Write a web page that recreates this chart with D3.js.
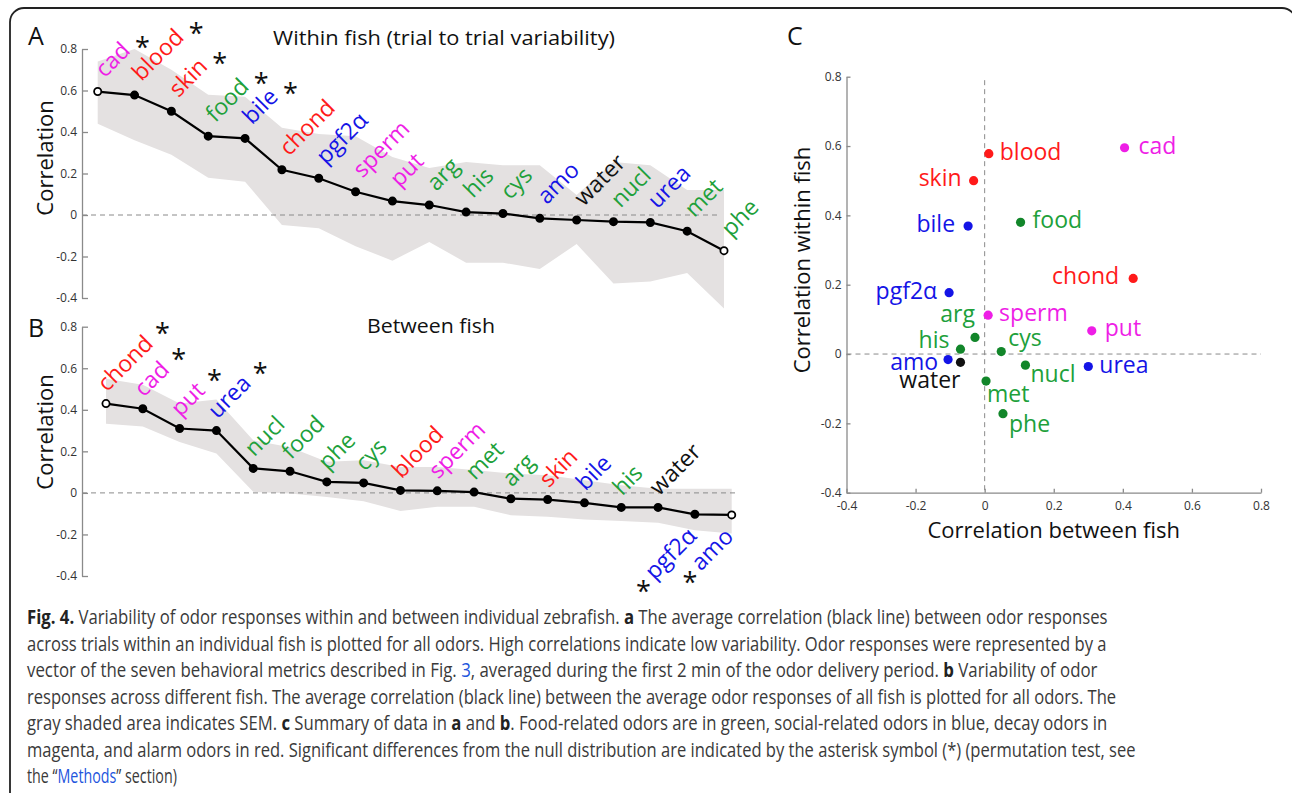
<!DOCTYPE html>
<html><head><meta charset="utf-8">
<script src="https://cdn.jsdelivr.net/npm/d3@7"></script>
<style>
body{margin:0;background:#fff}
svg{display:block}
text{font-family:"Open Sans","Noto Sans",sans-serif}
</style>
</head><body>
<svg id="c" width="1292" height="793"></svg>
<script>
// ---------------- DATA ----------------
// odor category (colour group)
const groupOf = {cad:"decay",blood:"alarm",skin:"alarm",food:"food",bile:"social",chond:"alarm","pgf2α":"social",
  sperm:"decay",put:"decay",arg:"food",his:"food",cys:"food",amo:"social",water:"control",nucl:"food",urea:"social",met:"food",phe:"food"};

// Panel A: within fish (sorted)
const odorsA   = ["cad","blood","skin","food","bile","chond","pgf2α","sperm","put","arg","his","cys","amo","water","nucl","urea","met","phe"];
const withinMean = [0.595,0.578,0.50,0.38,0.369,0.218,0.177,0.112,0.067,0.048,0.014,0.007,-0.016,-0.024,-0.032,-0.036,-0.078,-0.172];
const withinLo   = [0.44,0.36,0.29,0.18,0.16,-0.048,-0.064,-0.15,-0.22,-0.13,-0.23,-0.23,-0.26,-0.14,-0.33,-0.32,-0.28,-0.45];
const withinHi   = [0.74,0.80,0.70,0.58,0.57,0.42,0.39,0.38,0.28,0.226,0.256,0.24,0.24,0.096,0.256,0.24,0.12,0.12];
const withinSig  = [1,1,1,1,1,0,0,0,0,0,0,0,0,0,0,0,0,0];

// Panel B: between fish (sorted)
const odorsB   = ["chond","cad","put","urea","nucl","food","phe","cys","blood","sperm","met","arg","skin","bile","his","water","pgf2α","amo"];
const betweenMean = [0.43,0.405,0.31,0.30,0.118,0.104,0.053,0.048,0.012,0.01,0.004,-0.028,-0.032,-0.048,-0.07,-0.07,-0.103,-0.106];
const betweenLo   = [0.333,0.32,0.245,0.19,0.005,-0.003,-0.02,-0.04,-0.087,-0.067,-0.067,-0.107,-0.115,-0.128,-0.135,-0.144,-0.18,-0.195];
const betweenHi   = [0.55,0.52,0.43,0.45,0.253,0.22,0.15,0.157,0.125,0.125,0.11,0.093,0.085,0.061,0.037,0.02,0.02,0.02];
const betweenSig  = [1,1,1,1,0,0,0,0,0,0,0,0,0,0,0,0,1,1];

const corrTicks = [-0.4,-0.2,0,0.2,0.4,0.6,0.8];

// ---------------- STYLE / LAYOUT ----------------
const textColor = {food:"#20a03a",social:"#1414e6",decay:"#ee1ee6",alarm:"#ff1a1a",control:"#111"};
const dotColor  = {food:"#12862a",social:"#1414e6",decay:"#ee1ee6",alarm:"#ff1a1a",control:"#111"};
// panel C label placement: [anchor, dx, dy]
const cLabel = {blood:["start",11,6],cad:["start",14,6],skin:["end",-12,5],bile:["end",-13,6],food:["start",12,6],
  chond:["end",-14,6],"pgf2α":["end",-12,6],sperm:["start",11,6],put:["start",13,5],arg:["end",0,-15],his:["end",-11,-1],
  cys:["start",7,-6],amo:["end",-10,10],water:["end",0,26],nucl:["start",5,17],urea:["start",11,6],met:["start",1,21],phe:["start",6,18]};

const svg = d3.select("#c");
const AXIS = "#8a8a8a";

// frame
svg.append("rect").attr("x",10).attr("y",8).attr("width",1286).attr("height",800).attr("rx",14)
  .attr("fill","none").attr("stroke","#222").attr("stroke-width",1.8);

function fmt(d){ return d===0 ? "0" : String(d); }

function linePanel(o){
  const g = svg.append("g");
  const x = d3.scalePoint().domain(o.names).range(o.xr);
  const y = d3.scaleLinear().domain([-0.4,0.8]).range(o.yr);
  const idx = o.names.map((d,i)=>i);

  // band
  g.append("path").datum(idx)
    .attr("d", d3.area().x(i=>x(o.names[i])).y0(i=>y(o.lo[i])).y1(i=>y(o.hi[i])))
    .attr("fill","#e4e1e1");
  // zero line
  g.append("line").attr("x1",o.axisX).attr("x2",x(o.names[o.names.length-1])+o.dashExt)
    .attr("y1",y(0)).attr("y2",y(0)).attr("stroke","#8a8a8a").attr("stroke-width",1).attr("stroke-dasharray","5,4");
  // axis
  const ax = g.append("g").attr("transform",`translate(${o.axisX},0)`)
    .call(d3.axisLeft(y).tickValues(corrTicks).tickSizeInner(-6).tickSizeOuter(0).tickPadding(5).tickFormat(fmt));
  ax.select(".domain").attr("stroke",AXIS).attr("stroke-width",1.3);
  ax.selectAll(".tick line").attr("stroke",AXIS).attr("stroke-width",1.3);
  ax.selectAll(".tick text").attr("fill","#333").style("font-size","12px").style("font-family","'Open Sans',sans-serif");
  // line
  g.append("path").datum(idx)
    .attr("d", d3.line().x(i=>x(o.names[i])).y(i=>y(o.mean[i])))
    .attr("fill","none").attr("stroke","#000").attr("stroke-width",2.2);
  g.selectAll("circle").data(idx).join("circle")
    .attr("cx",i=>x(o.names[i])).attr("cy",i=>y(o.mean[i])).attr("r",3.6)
    .attr("fill",i=> (i===0||i===o.names.length-1) ? "#fff" : "#000")
    .attr("stroke","#000").attr("stroke-width",1.8);
  // labels
  const c = Math.SQRT1_2;
  idx.forEach(i=>{
    const name = o.names[i];
    const below = o.sig[i] && o.mean[i] < 0;
    const px = x(name), py = y(o.mean[i]);
    const sx = below ? px+3 : px+o.lab[0], sy = below ? py+23 : py+o.lab[1];
    const t = g.append("text")
      .attr("transform",`translate(${sx},${sy}) rotate(-45)`)
      .attr("text-anchor", below ? "end" : "start")
      .attr("fill", textColor[groupOf[name]])
      .style("font-size","23px")
      .text(name);
    if(o.sig[i]){
      const L = t.node().getComputedTextLength();
      let cx, cy;
      if(!below){ cx = sx + L*c + o.ast[0]; cy = sy - L*c + o.ast[1]; }
      else { cx = sx - L*c - 11; cy = sy + L*c + 6; }
      g.append("text").attr("x",cx).attr("y",cy+14).attr("text-anchor","middle")
        .attr("fill","#111").style("font-size","27px").text("*");
    }
  });
  // y label
  g.append("text").attr("transform",`translate(53,${o.ylabY}) rotate(-90)`).attr("text-anchor","middle")
    .attr("fill","#111").style("font-size","22px").text("Correlation");
  // title
  g.append("text").attr("x",o.titleX).attr("y",o.titleY).attr("fill","#111").style("font-size","20px")
    .attr("textLength",o.titleW).attr("lengthAdjust","spacingAndGlyphs").text(o.title);
  // panel letter
  g.append("text").attr("x",28).attr("y",o.letterY).attr("fill","#111").style("font-size","25px").text(o.letter);
}

linePanel({names:odorsA, mean:withinMean, lo:withinLo, hi:withinHi, sig:withinSig,
  xr:[97.7,724], yr:[298,49], axisX:82, dashExt:-7, ylabY:158, lab:[7,-13], ast:[11,-9],
  title:"Within fish (trial to trial variability)", titleX:273, titleY:45, titleW:342, letter:"A", letterY:45});
linePanel({names:odorsB, mean:betweenMean, lo:betweenLo, hi:betweenHi, sig:betweenSig,
  xr:[106,731.7], yr:[576,326.7], axisX:82, dashExt:5, ylabY:432, lab:[1,-11], ast:[8,-16],
  title:"Between fish", titleX:367, titleY:333, titleW:128, letter:"B", letterY:337});

// ---------------- Panel C ----------------
(function(){
  const g = svg.append("g");
  const x = d3.scaleLinear().domain([-0.4,0.8]).range([846.5,1261]);
  const y = d3.scaleLinear().domain([-0.4,0.8]).range([492.7,76.7]);
  const within = {}, between = {};
  odorsA.forEach((d,i)=>within[d]=withinMean[i]);
  odorsB.forEach((d,i)=>between[d]=betweenMean[i]);

  g.append("line").attr("x1",x(0)).attr("x2",x(0)).attr("y1",y(0.79)).attr("y2",y(-0.4))
    .attr("stroke","#8a8a8a").attr("stroke-dasharray","5,4");
  g.append("line").attr("x1",x(-0.4)).attr("x2",x(0.8)).attr("y1",y(0)).attr("y2",y(0))
    .attr("stroke","#8a8a8a").attr("stroke-dasharray","5,4");

  const ax = g.append("g").attr("transform",`translate(0,${y(-0.4)})`)
    .call(d3.axisBottom(x).tickValues(corrTicks).tickSizeInner(-4).tickSizeOuter(0).tickPadding(9).tickFormat(fmt));
  const ay = g.append("g").attr("transform",`translate(${x(-0.4)},0)`)
    .call(d3.axisLeft(y).tickValues(corrTicks).tickSizeInner(-4).tickSizeOuter(0).tickPadding(5).tickFormat(fmt));
  [ax,ay].forEach(a=>{
    a.select(".domain").attr("stroke",AXIS).attr("stroke-width",1.3);
    a.selectAll(".tick line").attr("stroke",AXIS).attr("stroke-width",1.3);
    a.selectAll(".tick text").attr("fill","#333").style("font-size","12px").style("font-family","'Open Sans',sans-serif");
  });

  g.selectAll("circle").data(odorsA).join("circle")
    .attr("cx",d=>x(between[d])).attr("cy",d=>y(within[d])).attr("r",4.6)
    .attr("fill",d=>dotColor[groupOf[d]]);
  g.selectAll("text.lab").data(odorsA).join("text").attr("class","lab")
    .attr("x",d=>x(between[d])+cLabel[d][1]).attr("y",d=>y(within[d])+cLabel[d][2])
    .attr("text-anchor",d=>cLabel[d][0])
    .attr("fill",d=>textColor[groupOf[d]]).style("font-size","23px").text(d=>d);

  g.append("text").attr("x",(x(-0.4)+x(0.8))/2).attr("y",538).attr("text-anchor","middle")
    .attr("fill","#111").style("font-size","22px").text("Correlation between fish");
  g.append("text").attr("transform","translate(810,260) rotate(-90)").attr("text-anchor","middle")
    .attr("fill","#111").style("font-size","22px").text("Correlation within fish");
  g.append("text").attr("x",787).attr("y",45).attr("fill","#111").style("font-size","25px").text("C");
})();

// ---------------- Caption ----------------
const captionLines = [
  [["Fig. 4.","b"],[" Variability of odor responses within and between individual zebrafish. "],["a","b"],[" The average correlation (black line) between odor responses"]],
  [["across trials within an individual fish is plotted for all odors. High correlations indicate low variability. Odor responses were represented by a"]],
  [["vector of the seven behavioral metrics described in Fig. "],["3","l"],[", averaged during the first 2 min of the odor delivery period. "],["b","b"],[" Variability of odor"]],
  [["responses across different fish. The average correlation (black line) between the average odor responses of all fish is plotted for all odors. The"]],
  [["gray shaded area indicates SEM. "],["c","b"],[" Summary of data in "],["a","b"],[" and "],["b","b"],[". Food-related odors are in green, social-related odors in blue, decay odors in"]],
  [["magenta, and alarm odors in red. Significant differences from the null distribution are indicated by the asterisk symbol (*) (permutation test, see"]],
  [["the \u201C"],["Methods","l"],["\u201D section)"]]
];
const captionWidths = [1081,1080,1071,1090,1081,1109,150];
captionLines.forEach((line,k)=>{
  const g = svg.append("g");
  const t = g.append("text").attr("x",0).attr("y",0)
    .attr("fill","#3a3a3a").style("font-size","19.5px");
  line.forEach(seg=>{
    const s = t.append("tspan").text(seg[0]);
    if(seg[1]==="b") s.style("font-weight","bold").attr("fill","#222");
    if(seg[1]==="l") s.attr("fill","#2255dd");
  });
  const w = t.node().getComputedTextLength();
  g.attr("transform",`translate(27,${624+k*26.5}) scale(${captionWidths[k]/w},1)`);
});
</script>
</body></html>
